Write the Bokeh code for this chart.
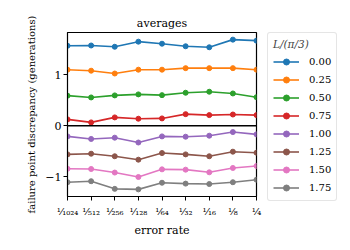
from bokeh.plotting import figure
from bokeh.layouts import row
from bokeh.models import Legend, LegendItem, FixedTicker, Span
from bokeh.embed import file_html
from bokeh.resources import INLINE

xs = [-10, -9, -8, -7, -6, -5, -4, -3, -2]
x_labels = ["¹⁄₁₀₂₄", "¹⁄₅₁₂", "¹⁄₂₅₆", "¹⁄₁₂₈", "¹⁄₆₄", "¹⁄₃₂", "¹⁄₁₆", "¹⁄₈", "¹⁄₄"]
series_labels = ["0.00", "0.25", "0.50", "0.75", "1.00", "1.25", "1.50", "1.75"]
colors = ["#1f77b4", "#ff7f0e", "#2ca02c", "#d62728", "#9467bd", "#8c564b", "#e377c2", "#7f7f7f"]

s000 = [1.57, 1.575, 1.55, 1.65, 1.61, 1.56, 1.54, 1.69, 1.67]
s025 = [1.10, 1.08, 1.025, 1.10, 1.10, 1.13, 1.13, 1.13, 1.10]
s050 = [0.59, 0.555, 0.595, 0.615, 0.60, 0.647, 0.667, 0.633, 0.56]
s075 = [0.124, 0.065, 0.163, 0.137, 0.143, 0.227, 0.208, 0.22, 0.208]
s100 = [-0.21, -0.26, -0.235, -0.33, -0.21, -0.216, -0.196, -0.125, -0.17]
s125 = [-0.563, -0.55, -0.60, -0.667, -0.537, -0.563, -0.60, -0.51, -0.53]
s150 = [-0.845, -0.85, -0.92, -1.007, -0.857, -0.863, -0.915, -0.83, -0.79]
s175 = [-1.11, -1.09, -1.24, -1.25, -1.12, -1.137, -1.145, -1.11, -1.06]
series = [s000, s025, s050, s075, s100, s125, s150, s175]

FONT = "DejaVu Serif"

p = figure(frame_width=189, frame_height=164, output_backend="svg", toolbar_location=None,
           x_range=(-10, -2), y_range=(-1.39, 1.83),
           title="averages", min_border_left=67, min_border_top=32,
           min_border_bottom=54, min_border_right=11)
p.title.align = "center"
p.title.text_font = FONT
p.title.text_font_size = "11px"
p.title.text_font_style = "normal"
p.title.text_color = "black"
p.title.standoff = 6

p.xgrid.visible = False
p.ygrid.visible = False
p.outline_line_color = "black"
p.outline_line_width = 1.2
p.outline_line_alpha = 1

p.add_layout(Span(location=0, dimension="width", line_color="black", line_width=1.5))

for ys, c in zip(series, colors):
    p.line(xs, ys, line_color=c, line_width=1.6)
    p.scatter(xs, ys, size=5, fill_color=c, line_color=c)

for ax in (p.xaxis[0], p.yaxis[0]):
    ax.axis_line_color = "black"
    ax.major_tick_line_color = "black"
    ax.major_tick_out = 4
    ax.major_tick_in = 0
    ax.minor_tick_line_color = None
    ax.major_label_text_font = FONT
    ax.major_label_text_color = "black"
    ax.axis_label_text_font = FONT
    ax.axis_label_text_font_style = "normal"
    ax.axis_label_text_font_size = "11px"
    ax.axis_label_text_color = "black"

p.xaxis.ticker = FixedTicker(ticks=xs)
p.xaxis.major_label_overrides = {x: l for x, l in zip(xs, x_labels)}
p.xaxis.major_label_text_font_size = "10px"
p.xaxis.major_label_standoff = 5
p.xaxis.axis_label = "error rate"
p.xaxis.axis_label_standoff = 4
p.yaxis.ticker = FixedTicker(ticks=[-1, 0, 1])
p.yaxis.major_label_overrides = {-1: "−1", 0: "0", 1: "1"}
p.yaxis.major_label_text_font_size = "11px"
p.yaxis.major_label_standoff = 2
p.yaxis.axis_label = "failure point discrepancy (generations)"
p.yaxis.axis_label_text_font_size = "10px"
p.yaxis.axis_label_standoff = 5

# legend panel
q = figure(frame_width=74, frame_height=218, output_backend="svg", toolbar_location=None,
           x_range=(0, 1), y_range=(0, 1), min_border_left=0, min_border_right=0,
           min_border_top=30, min_border_bottom=2)
q.outline_line_color = None
q.xaxis.visible = False
q.yaxis.visible = False
q.xgrid.visible = False
q.ygrid.visible = False

items = []
for lab, c in zip(series_labels, colors):
    r1 = q.line(x=[5, 6], y=[5, 6], line_color=c, line_width=1.6)
    r2 = q.scatter(x=[5], y=[5], size=5, fill_color=c, line_color=c)
    items.append(LegendItem(label=lab, renderers=[r1, r2]))

legend = Legend(items=items, title="L/(π/3)", location="top_left")
legend.title_text_font = FONT
legend.title_text_font_style = "italic"
legend.title_text_font_size = "10.5px"
legend.title_standoff = 4
legend.label_text_font = FONT
legend.label_text_font_size = "10px"
legend.label_text_color = "black"
legend.glyph_width = 26
legend.glyph_height = 15
legend.label_height = 15
legend.label_standoff = 10
legend.spacing = 3
legend.padding = 5
legend.margin = 0
legend.border_line_color = "#cccccc"
legend.background_fill_alpha = 0.9
if "border_radius" in Legend.properties():
    legend.border_radius = 3
q.add_layout(legend, "center")

open("out.html", "w").write(file_html(row(p, q), INLINE))
